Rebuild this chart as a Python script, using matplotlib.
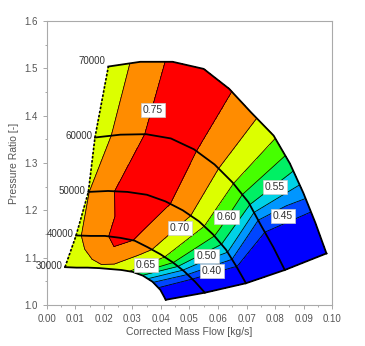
import numpy as np
import matplotlib
matplotlib.use('Agg')
import matplotlib.pyplot as plt
from matplotlib.ticker import AutoMinorLocator, FormatStrFormatter

plt.rcParams['font.family'] = ['Liberation Sans', 'DejaVu Sans']

# Compressor map: speed lines (surge -> choke) with isentropic efficiency

speeds = [30000, 40000, 50000, 60000, 70000]

flow_30k = [0.0064, 0.0104, 0.0143, 0.0183, 0.0222, 0.0262, 0.0301, 0.0337, 0.0371, 0.0398, 0.0417]
pr_30k = [1.080, 1.079, 1.079, 1.078, 1.076, 1.074, 1.070, 1.062, 1.049, 1.032, 1.011]
eta_30k = [0.665, 0.675, 0.685, 0.690, 0.690, 0.675, 0.640, 0.545, 0.455, 0.380, 0.340]

flow_40k = [0.0103, 0.0154, 0.0204, 0.0257, 0.0308, 0.0354, 0.0399, 0.0442, 0.0482, 0.0520, 0.0554]
pr_40k = [1.147, 1.146, 1.146, 1.142, 1.136, 1.122, 1.107, 1.090, 1.071, 1.049, 1.026]
eta_40k = [0.690, 0.718, 0.742, 0.7745, 0.747, 0.713, 0.673, 0.603, 0.484, 0.370, 0.330]

flow_50k = [0.0146, 0.0215, 0.0283, 0.0351, 0.0416, 0.0477, 0.0533, 0.0583, 0.0628, 0.0664, 0.0698]
pr_50k = [1.239, 1.241, 1.239, 1.233, 1.219, 1.200, 1.177, 1.149, 1.117, 1.082, 1.046]
eta_50k = [0.698, 0.745, 0.760, 0.765, 0.760, 0.724, 0.675, 0.609, 0.518, 0.402, 0.330]

flow_60k = [0.0169, 0.0258, 0.0348, 0.0435, 0.0516, 0.0588, 0.0651, 0.0707, 0.0750, 0.0794, 0.0834]
pr_60k = [1.354, 1.360, 1.361, 1.352, 1.329, 1.297, 1.259, 1.217, 1.169, 1.122, 1.074]
eta_60k = [0.675, 0.714, 0.752, 0.765, 0.755, 0.713, 0.655, 0.565, 0.419, 0.360, 0.320]

flow_70k = [0.0216, 0.0328, 0.0441, 0.0550, 0.0639, 0.0716, 0.0795, 0.0852, 0.0899, 0.0941, 0.0980]
pr_70k = [1.504, 1.514, 1.514, 1.499, 1.457, 1.407, 1.358, 1.299, 1.237, 1.174, 1.109]
eta_70k = [0.665, 0.717, 0.760, 0.770, 0.755, 0.714, 0.658, 0.577, 0.471, 0.360, 0.320]

# efficiency contour levels and band colours
eta_levels = [0.40, 0.45, 0.50, 0.55, 0.60, 0.65, 0.70, 0.75]
band_colors = ['#0000ff', '#0046ff', '#0096ff', '#00d2e6', '#00f064',
               '#46ff00', '#dcff00', '#ff8c00', '#ff0000']

# label text and where it sits
label_text = ['0.75', '0.70', '0.65', '0.60', '0.55', '0.50', '0.45', '0.40']
label_flow = [0.0373, 0.0467, 0.0347, 0.0630, 0.0799, 0.0560, 0.0828, 0.0578]
label_pr = [1.412, 1.163, 1.0845, 1.1866, 1.250, 1.1035, 1.188, 1.0725]

M = np.array([flow_30k, flow_40k, flow_50k, flow_60k, flow_70k])
P = np.array([pr_30k, pr_40k, pr_50k, pr_60k, pr_70k])
E = np.array([eta_30k, eta_40k, eta_50k, eta_60k, eta_70k])

fig = plt.figure(figsize=(3.65, 3.46), dpi=100)
ax = fig.add_axes([0.128, 0.1185, 0.782, 0.8205])

# filled efficiency bands + thin contour lines
ax.contourf(M, P, E, levels=[0.0] + eta_levels + [1.0], colors=band_colors)
ax.contour(M, P, E, levels=eta_levels, colors='k', linewidths=0.55)

# speed lines
for i in range(len(speeds)):
    ax.plot(M[i], P[i], color='k', lw=1.3)
    ax.annotate(str(speeds[i]), (M[i, 0], P[i, 0]),
                xytext=(-2, 4 if i == len(speeds) - 1 else 1),
                textcoords='offset points', ha='right', va='center',
                fontsize=7, color='#333333')

# choke line and surge line
ax.plot(M[:, -1], P[:, -1], color='k', lw=1.3)
ax.plot(M[:, 0], P[:, 0], color='k', lw=1.2, ls=(0, (1.5, 1)))

for s, x, y in zip(label_text, label_flow, label_pr):
    ax.text(x, y, s, ha='center', va='center', fontsize=7.5, color='#333333',
            bbox=dict(boxstyle='square,pad=0.2', fc='white', ec='#cccccc', lw=0.5))

ax.set_xlim(0, 0.1)
ax.set_ylim(1.0, 1.6)
ax.set_xticks(np.arange(0, 0.1001, 0.01))
ax.set_yticks(np.arange(1.0, 1.6001, 0.1))
ax.xaxis.set_major_formatter(FormatStrFormatter('%.2f'))
ax.yaxis.set_major_formatter(FormatStrFormatter('%.1f'))
ax.xaxis.set_minor_locator(AutoMinorLocator(2))
ax.yaxis.set_minor_locator(AutoMinorLocator(2))
ax.tick_params(which='both', direction='out', color='#999999', labelcolor='#555555',
               labelsize=7, width=0.6)
ax.tick_params(which='major', length=3)
ax.tick_params(which='minor', length=1.5)
for sp in ax.spines.values():
    sp.set_color('#aaaaaa')
    sp.set_linewidth(0.8)

ax.set_xlabel('Corrected Mass Flow [kg/s]', fontsize=7.5, color='#555555', labelpad=2)
ax.set_ylabel('Pressure Ratio [-]', fontsize=7.5, color='#555555', labelpad=4)

fig.savefig('out.png', dpi=100)
